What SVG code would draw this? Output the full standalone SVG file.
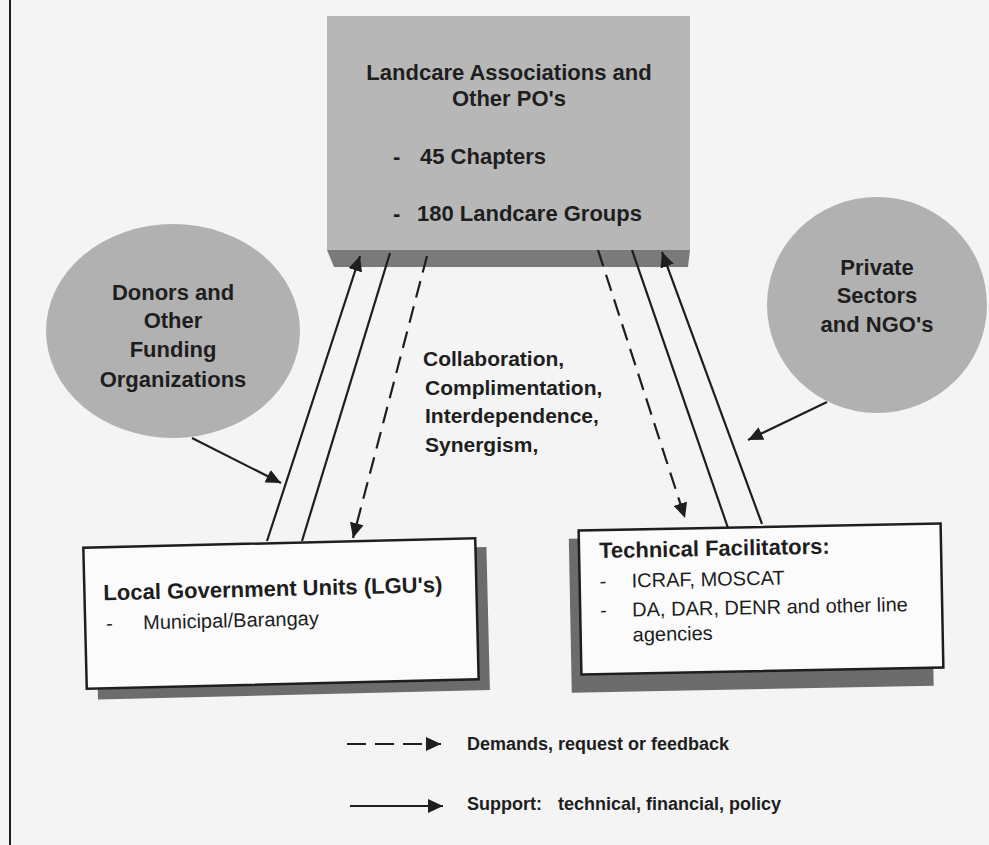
<svg xmlns="http://www.w3.org/2000/svg" width="989" height="845" viewBox="0 0 989 845">
<defs>
<style>
.t{font-family:"Liberation Sans",Arial,sans-serif;fill:#1e1e1e}
.b{font-weight:bold}
.c{text-anchor:middle}
.ln{stroke:#1e1e1e;stroke-width:2.2;fill:none}
.ds{stroke-dasharray:17 9}
.box{fill:#fbfbfb;stroke:#1e1e1e;stroke-width:2.5}
.sh{fill:#6c6c6c}
.disk{fill:#b1b1b1}
</style>
<marker id="ah" markerUnits="userSpaceOnUse" markerWidth="16" markerHeight="14" refX="15" refY="7" orient="auto">
<path d="M0,0 L15,7 L0,14 Z" fill="#1e1e1e"/>
</marker>
</defs>
<rect x="0" y="0" width="989" height="845" fill="#f4f4f4"/>
<line x1="10" y1="0" x2="10" y2="845" stroke="#1e1e1e" stroke-width="2"/>

<g id="landcare">
<rect x="327" y="16" width="363" height="235" fill="#b7b7b7"/>
<polygon points="327,250 690,250 688,267 334,267" fill="#7a7a7a"/>
<text class="t b c" x="509" y="80" font-size="22">Landcare Associations and</text>
<text class="t b c" x="509" y="106" font-size="22">Other PO's</text>
<text class="t b" x="393" y="164" font-size="22">-</text>
<text class="t b" x="420" y="164" font-size="22">45 Chapters</text>
<text class="t b" x="393" y="221" font-size="22">-</text>
<text class="t b" x="417" y="221" font-size="22">180 Landcare Groups</text>
</g>

<g id="donors">
<ellipse class="disk" cx="173" cy="331" rx="127" ry="107"/>
<text class="t b c" x="173" y="300" font-size="22">Donors and</text>
<text class="t b c" x="173" y="328" font-size="22">Other</text>
<text class="t b c" x="173" y="357" font-size="22">Funding</text>
<text class="t b c" x="173" y="387" font-size="22">Organizations</text>
</g>

<g id="private">
<ellipse class="disk" cx="877" cy="305" rx="110" ry="108"/>
<text class="t b c" x="877" y="275" font-size="22">Private</text>
<text class="t b c" x="877" y="303" font-size="22">Sectors</text>
<text class="t b c" x="877" y="332" font-size="22">and NGO's</text>
</g>

<g id="lgu" transform="rotate(-1.4 281 614)">
<rect class="sh" x="96" y="552" width="392" height="143"/>
<rect class="box" x="85" y="543" width="392" height="141"/>
<text class="t b" x="104" y="596" font-size="22">Local Government Units (LGU's)</text>
<text class="t" x="106" y="626" font-size="20">-</text>
<text class="t" x="143" y="626" font-size="20">Municipal/Barangay</text>
</g>

<g id="technical" transform="rotate(-1.1 761 599)">
<rect class="sh" x="570" y="535" width="362" height="154"/>
<rect class="box" x="580" y="527" width="362" height="144"/>
<text class="t b" x="600" y="555" font-size="22">Technical Facilitators:</text>
<text class="t" x="600" y="585" font-size="20">-</text>
<text class="t" x="632" y="585" font-size="20">ICRAF, MOSCAT</text>
<text class="t" x="600" y="614" font-size="20">-</text>
<text class="t" x="632" y="614" font-size="20">DA, DAR, DENR and other line</text>
<text class="t" x="632" y="639" font-size="20">agencies</text>
</g>

<g id="relation">
<text class="t b" x="423" y="366" font-size="21">Collaboration,</text>
<text class="t b" x="425" y="395" font-size="21">Complimentation,</text>
<text class="t b" x="425" y="423" font-size="21">Interdependence,</text>
<text class="t b" x="425" y="452" font-size="21">Synergism,</text>
</g>

<g id="connectors">
<line class="ln" x1="267" y1="541" x2="360" y2="256" marker-end="url(#ah)"/>
<line class="ln" x1="390" y1="253" x2="302" y2="541"/>
<line class="ln ds" x1="427" y1="256" x2="353" y2="538" marker-end="url(#ah)"/>
<line class="ln ds" x1="598" y1="250" x2="685" y2="518" marker-end="url(#ah)"/>
<line class="ln" x1="632" y1="250" x2="728" y2="528"/>
<line class="ln" x1="762" y1="524" x2="662" y2="252" marker-end="url(#ah)"/>
<line class="ln" x1="192" y1="438" x2="281" y2="483" marker-end="url(#ah)"/>
<line class="ln" x1="827" y1="402" x2="748" y2="440" marker-end="url(#ah)"/>
</g>

<g id="legend">
<line class="ln ds" x1="347" y1="744" x2="441" y2="744" marker-end="url(#ah)" style="stroke-dasharray:19 9"/>
<text class="t b" x="467" y="750" font-size="18">Demands, request or feedback</text>
<line class="ln" x1="350" y1="806" x2="443" y2="806" marker-end="url(#ah)"/>
<text class="t b" x="467" y="810" font-size="18"><tspan>Support:</tspan><tspan x="558">technical, financial, policy</tspan></text>
</g>
</svg>
